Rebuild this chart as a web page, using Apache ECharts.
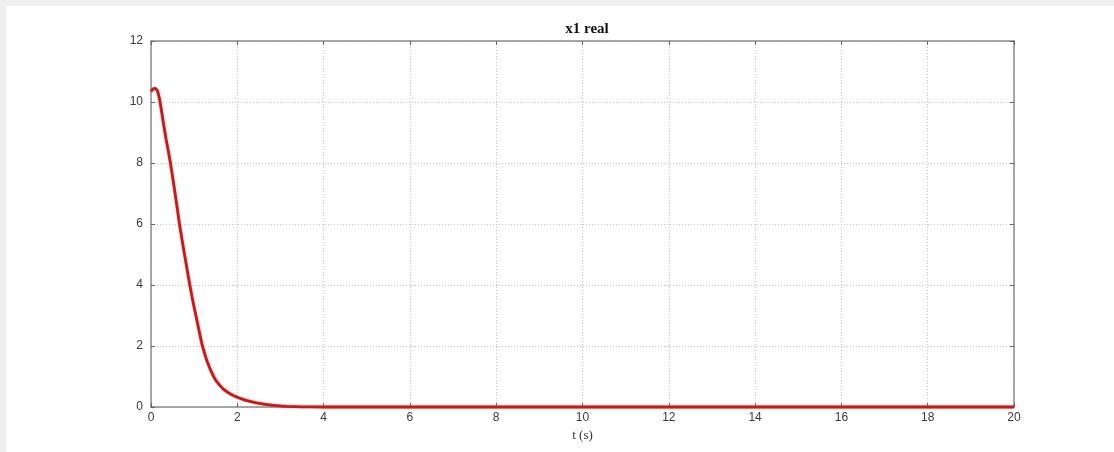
<!DOCTYPE html>
<html>
<head>
<meta charset="utf-8">
<title>x1 real</title>
<script src="https://cdn.jsdelivr.net/npm/echarts@6/dist/echarts.min.js"></script>
<style>
  html, body { margin: 0; padding: 0; width: 1114px; height: 452px; overflow: hidden; background: #efefef; }
  #sheet { position: absolute; left: 6px; top: 6px; right: 0; bottom: 0; background: #ffffff; }
  #chart { position: absolute; left: 0; top: 0; width: 1114px; height: 452px; }
</style>
</head>
<body>
<div id="sheet"></div>
<div id="chart"></div>
<script>
// State x1 over time (seconds)
const timeS = [0, 0.05, 0.1, 0.15, 0.2, 0.25, 0.3, 0.35, 0.4, 0.45, 0.5, 0.55, 0.6, 0.66, 0.72, 0.78, 0.84, 0.9, 0.95, 1.0, 1.1, 1.18, 1.25, 1.3, 1.4, 1.49, 1.6, 1.7, 1.85, 2.0, 2.2, 2.37, 2.55, 2.7, 2.9, 3.15, 3.5, 4.0, 5, 6, 8, 10, 12, 14, 16, 18, 20];
const x1Real = [10.35, 10.43, 10.45, 10.36, 10.08, 9.65, 9.2, 8.78, 8.4, 8.0, 7.55, 7.08, 6.6, 6.0, 5.48, 4.98, 4.48, 4.0, 3.62, 3.27, 2.6, 2.07, 1.72, 1.5, 1.15, 0.9, 0.7, 0.56, 0.42, 0.32, 0.22, 0.16, 0.11, 0.075, 0.045, 0.02, 0.006, 0.0, 0, 0, 0, 0, 0, 0, 0, 0, 0];

const xTicks = { min: 0, max: 20, step: 2 };
const yTicks = { min: 0, max: 12, step: 2 };

const chartTitle = 'x1 real';
const xAxisName = 't (s)';

const points = timeS.map((t, i) => [t, x1Real[i]]);

const chart = echarts.init(document.getElementById('chart'), null, { renderer: 'canvas' });

const axisLineStyle = { color: '#8c8c8c', width: 1.5 };
const tickStyle = { show: true, inside: true, length: 4, lineStyle: { color: '#666', width: 1 } };
const labelStyle = { color: '#3a3a3a', fontFamily: 'Liberation Sans, Arial, sans-serif', fontSize: 12 };

chart.setOption({
  backgroundColor: 'transparent',
  animation: false,
  title: {
    text: chartTitle,
    left: 582, top: 17, textAlign: 'center',
    textStyle: { fontFamily: 'Liberation Serif, Times New Roman, serif', fontWeight: 'bold', fontSize: 15, color: '#111' }
  },
  grid: { left: 151, right: 100, top: 41, bottom: 45, show: false },
  xAxis: [
    {
      type: 'value', min: xTicks.min, max: xTicks.max, interval: xTicks.step,
      name: xAxisName, nameLocation: 'middle', nameGap: 22,
      nameTextStyle: { fontFamily: 'Liberation Serif, Times New Roman, serif', fontSize: 13, color: '#333' },
      axisLine: { show: true, onZero: false, lineStyle: axisLineStyle },
      axisTick: tickStyle,
      axisLabel: Object.assign({ margin: 5 }, labelStyle),
      splitLine: { show: true, lineStyle: { type: [1, 2], color: '#c4c4c4', width: 1 } }
    },
    {
      type: 'value', position: 'top', min: xTicks.min, max: xTicks.max, interval: xTicks.step,
      axisLine: { show: true, onZero: false, lineStyle: axisLineStyle },
      axisTick: tickStyle, axisLabel: { show: false }, splitLine: { show: false }
    }
  ],
  yAxis: [
    {
      type: 'value', min: yTicks.min, max: yTicks.max, interval: yTicks.step,
      axisLine: { show: true, onZero: false, lineStyle: axisLineStyle },
      axisTick: tickStyle,
      axisLabel: Object.assign({ margin: 8 }, labelStyle),
      splitLine: { show: true, lineStyle: { type: [1, 2], color: '#c4c4c4', width: 1 } }
    },
    {
      type: 'value', position: 'right', min: yTicks.min, max: yTicks.max, interval: yTicks.step,
      axisLine: { show: true, onZero: false, lineStyle: axisLineStyle },
      axisTick: tickStyle, axisLabel: { show: false }, splitLine: { show: false }
    }
  ],
  series: [
    {
      type: 'line', data: points, smooth: 0.15, symbol: 'none', clip: false,
      lineStyle: { color: '#c41a1a', width: 2.8, shadowColor: 'rgba(235,70,70,0.55)', shadowBlur: 2 },
      z: 5
    }
  ]
});
</script>
</body>
</html>
